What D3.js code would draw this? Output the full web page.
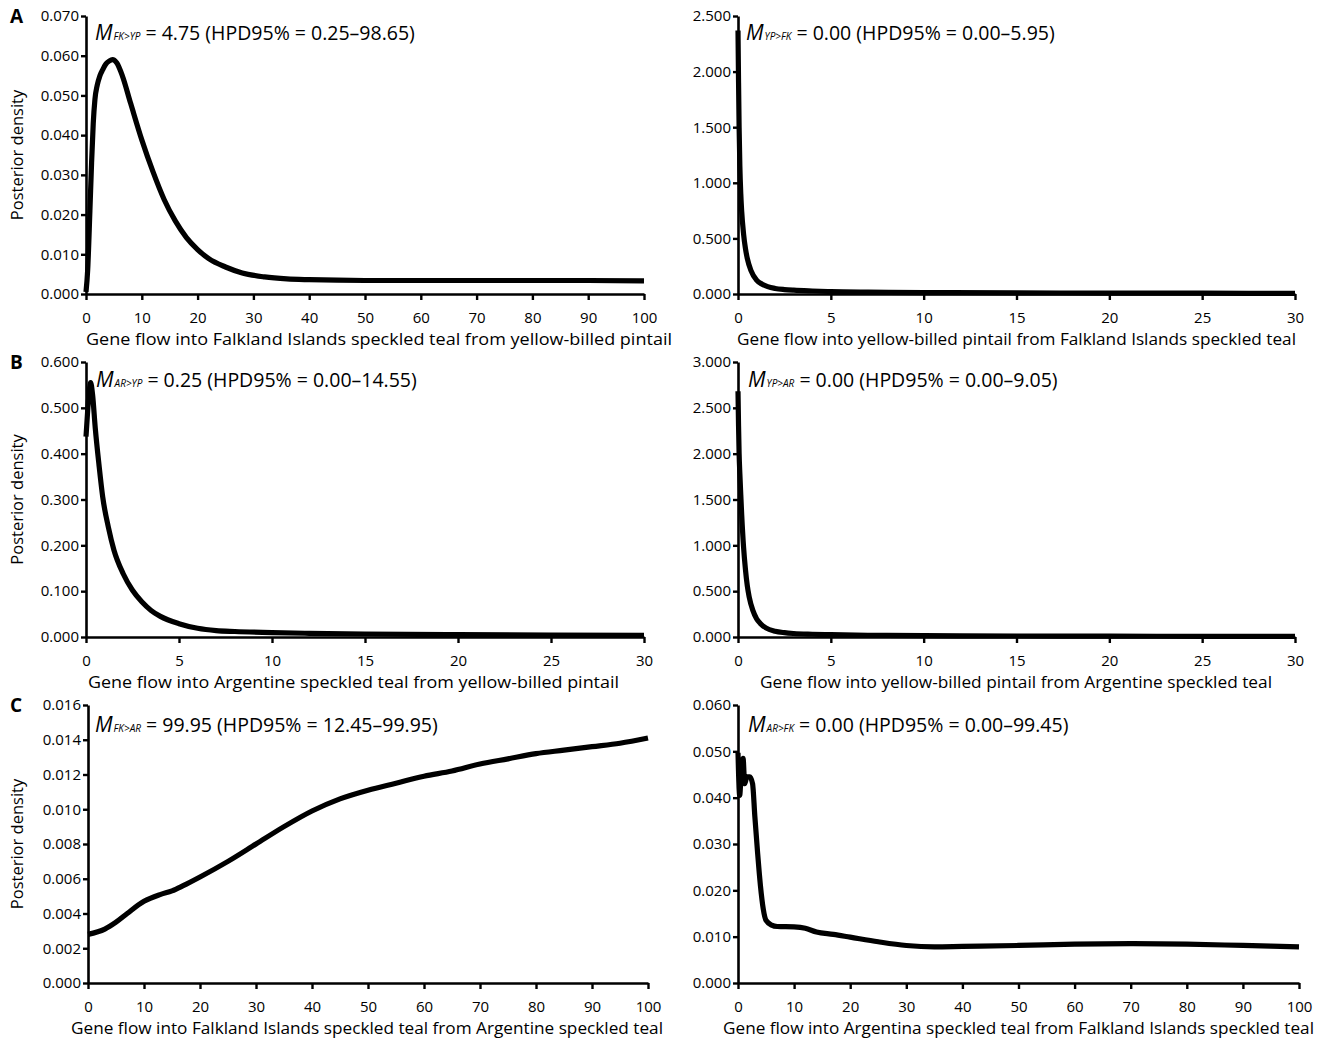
<!DOCTYPE html>
<html><head><meta charset="utf-8">
<script src="https://cdn.jsdelivr.net/npm/d3@7"></script>
<style>
body{margin:0;background:#fff}
text{font-family:"Open Sans","Noto Sans",sans-serif;fill:#000}
</style></head><body>
<svg id="c" width="1322" height="1041"></svg>
<script>
// ---- data ----
const aLeftX = [0,0.3,0.7,1.0,1.3,1.6,2,2.5,3,3.5,4.2,4.75,5.5,6.5,8,10,12,14,16,18,20,22,25,28,32,36,40,50,60,70,80,90,100];
const aLeftY = [0.0005,0.006,0.021,0.033,0.043,0.049,0.0525,0.055,0.0565,0.0578,0.0587,0.059,0.0582,0.055,0.048,0.0388,0.0308,0.0238,0.0184,0.0142,0.0112,0.0089,0.0068,0.0053,0.0043,0.0038,0.0036,0.0034,0.0034,0.0034,0.0034,0.0034,0.0033];

const aRightX = [0,0.03,0.06,0.1,0.15,0.2,0.3,0.4,0.5,0.7,1.0,1.3,1.6,2,2.5,3,4,5,7,10,15,20,25,30];
const aRightY = [2.37,1.9,1.5,1.15,0.9,0.74,0.54,0.41,0.32,0.21,0.125,0.088,0.066,0.05,0.04,0.034,0.027,0.022,0.017,0.013,0.01,0.008,0.007,0.006];

const bLeftX = [0,0.1,0.2,0.25,0.35,0.5,0.7,0.9,1.2,1.5,2,2.5,3,3.5,4,5,6,7,8,10,12,15,20,25,30];
const bLeftY = [0.437,0.50,0.545,0.555,0.53,0.455,0.375,0.305,0.24,0.19,0.138,0.102,0.077,0.058,0.045,0.029,0.019,0.014,0.012,0.0095,0.008,0.0065,0.005,0.004,0.0035];

const bRightX = [0,0.03,0.06,0.1,0.15,0.2,0.3,0.4,0.5,0.6,0.8,1.0,1.2,1.5,2,2.5,3,4,5,7,10,15,20,25,30];
const bRightY = [2.68,2.3,2.0,1.78,1.55,1.33,0.98,0.74,0.56,0.44,0.29,0.2,0.148,0.1,0.063,0.047,0.038,0.03,0.025,0.019,0.015,0.011,0.009,0.007,0.006];

const cLeftX = [0,3,5,7,10,13,15,17,20,25,30,35,40,45,50,55,60,65,70,75,80,85,90,95,100];
const cLeftY = [0.0028,0.0031,0.0035,0.0040,0.0047,0.0051,0.0053,0.0056,0.0061,0.0070,0.0080,0.0090,0.0099,0.0106,0.0111,0.0115,0.0119,0.0122,0.0126,0.0129,0.0132,0.0134,0.0136,0.0138,0.0141];

const cRightX = [0,0.3,0.6,0.9,1.2,1.6,2.1,2.6,3.0,3.5,4,4.5,5,6,7,10,12,14,17,20,25,30,35,40,50,60,70,80,90,100];
const cRightY = [0.0497,0.0405,0.046,0.0485,0.043,0.0445,0.0445,0.043,0.036,0.028,0.021,0.016,0.0135,0.0125,0.0122,0.0121,0.0118,0.011,0.0105,0.0099,0.0089,0.0081,0.0078,0.0079,0.0081,0.0084,0.0085,0.0084,0.0081,0.0078];

const xTicks100 = [0,10,20,30,40,50,60,70,80,90,100];
const xTicks30 = [0,5,10,15,20,25,30];
const yTicksALeft = [0,0.01,0.02,0.03,0.04,0.05,0.06,0.07];
const yTicksARight = [0,0.5,1,1.5,2,2.5];
const yTicksBLeft = [0,0.1,0.2,0.3,0.4,0.5,0.6];
const yTicksBRight = [0,0.5,1,1.5,2,2.5,3];
const yTicksCLeft = [0,0.002,0.004,0.006,0.008,0.01,0.012,0.014,0.016];
const yTicksCRight = [0,0.01,0.02,0.03,0.04,0.05,0.06];

const subs = ["FK>YP","YP>FK","AR>YP","YP>AR","FK>AR","AR>FK"];
const stats = [" = 4.75 (HPD95% = 0.25\u201398.65)"," = 0.00 (HPD95% = 0.00\u20135.95)"," = 0.25 (HPD95% = 0.00\u201314.55)"," = 0.00 (HPD95% = 0.00\u20139.05)"," = 99.95 (HPD95% = 12.45\u201399.95)"," = 0.00 (HPD95% = 0.00\u201399.45)"];
const titles = [
 "Gene flow into Falkland Islands speckled teal from yellow-billed pintail",
 "Gene flow into yellow-billed pintail from Falkland Islands speckled teal",
 "Gene flow into Argentine speckled teal from yellow-billed pintail",
 "Gene flow into yellow-billed pintail from Argentine speckled teal",
 "Gene flow into Falkland Islands speckled teal from Argentine speckled teal",
 "Gene flow into Argentina speckled teal from Falkland Islands speckled teal"];
const panelLetters = ["A","B","C"];

// ---- layout ----
const svg = d3.select("#c");
const panels = [
 {xs:aLeftX, ys:aLeftY, xmax:100, ymax:0.07, xt:xTicks100, yt:yTicksALeft, l:86, r:644, t:16, b:294, tx:86, tw:586, ax:95, ay:40, aw:313},
 {xs:aRightX, ys:aRightY, xmax:30, ymax:2.5, xt:xTicks30, yt:yTicksARight, l:738, r:1295, t:16, b:294, tx:737, tw:559, ax:746, ay:40, aw:303},
 {xs:bLeftX, ys:bLeftY, xmax:30, ymax:0.6, xt:xTicks30, yt:yTicksBLeft, l:86, r:644, t:362, b:637, tx:88, tw:531, ax:96, ay:387, aw:314},
 {xs:bRightX, ys:bRightY, xmax:30, ymax:3, xt:xTicks30, yt:yTicksBRight, l:738, r:1295, t:362, b:637, tx:760, tw:512, ax:748, ay:387, aw:302},
 {xs:cLeftX, ys:cLeftY, xmax:100, ymax:0.016, xt:xTicks100, yt:yTicksCLeft, l:88, r:648, t:705, b:983, tx:71, tw:592, ax:95, ay:732, aw:338},
 {xs:cRightX, ys:cRightY, xmax:100, ymax:0.06, xt:xTicks100, yt:yTicksCRight, l:738, r:1299, t:705, b:983, tx:723, tw:591, ax:748, ay:732, aw:314}
];

panels.forEach((p,i)=>{
  const x = d3.scaleLinear().domain([0,p.xmax]).range([p.l,p.r]);
  const y = d3.scaleLinear().domain([0,p.ymax]).range([p.b,p.t]);
  const g = svg.append("g");
  const yAx = g.append("g").attr("transform",`translate(${p.l},0)`)
    .call(d3.axisLeft(y).tickValues(p.yt).tickFormat(d3.format(".3f")).tickSize(5).tickSizeOuter(0).tickPadding(2));
  const xAx = g.append("g").attr("transform",`translate(0,${p.b})`)
    .call(d3.axisBottom(x).tickValues(p.xt).tickFormat(d3.format("d")).tickSize(6).tickSizeOuter(0).tickPadding(12));
  [yAx,xAx].forEach(a=>{
    a.select(".domain").attr("stroke","#000").attr("stroke-width",2.6);
    a.selectAll(".tick line").attr("stroke","#000").attr("stroke-width",2.4);
    a.selectAll(".tick text").attr("font-size",15).attr("fill","#000").attr("font-family","'Open Sans',sans-serif");
  });
  const line = d3.line().x((d,k)=>x(p.xs[k])).y((d,k)=>y(d)).curve(d3.curveMonotoneX);
  g.append("path").attr("d",line(p.ys)).attr("fill","none").attr("stroke","#000")
    .attr("stroke-width",5.2).attr("stroke-linejoin","round");
  // annotation
  const t = g.append("text").attr("x",p.ax).attr("y",p.ay).attr("font-size",19.5);
  t.append("tspan").attr("font-style","italic").attr("font-size",21).text("M");
  t.append("tspan").attr("font-style","italic").attr("font-size",10).attr("dx",1).text(subs[i]);
  t.append("tspan").text(stats[i]);
  // x title
  g.append("text").attr("x",p.tx).attr("y",p.b+51).attr("font-size",17)
    .attr("textLength",p.tw).attr("lengthAdjust","spacingAndGlyphs").text(titles[i]);
  if(i%2===0){
    const row = i/2;
    g.append("text").attr("transform",`translate(23,${(p.t+p.b)/2}) rotate(-90)`)
      .attr("text-anchor","middle").attr("font-size",16.5).text("Posterior density");
    g.append("text").attr("x",10).attr("y",p.t+7).attr("font-size",19).attr("font-weight","bold").text(panelLetters[row]);
  }
});
</script></body></html>
